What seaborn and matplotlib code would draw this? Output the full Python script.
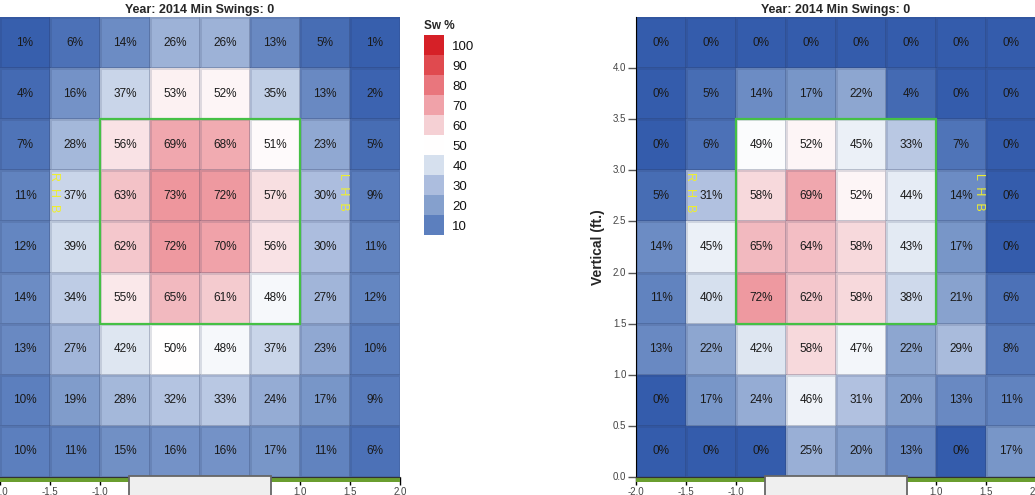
import numpy as np
import seaborn as sns
import matplotlib.pyplot as plt
from matplotlib.colors import LinearSegmentedColormap
from matplotlib.patches import Rectangle

# swing % by zone, top row first (4.5 ft down to 0 ft), left to right (-2 ft to 2 ft)
left_grid = [
    [1, 6, 14, 26, 26, 13, 5, 1],
    [4, 16, 37, 53, 52, 35, 13, 2],
    [7, 28, 56, 69, 68, 51, 23, 5],
    [11, 37, 63, 73, 72, 57, 30, 9],
    [12, 39, 62, 72, 70, 56, 30, 11],
    [14, 34, 55, 65, 61, 48, 27, 12],
    [13, 27, 42, 50, 48, 37, 23, 10],
    [10, 19, 28, 32, 33, 24, 17, 9],
    [10, 11, 15, 16, 16, 17, 11, 6],
]
right_grid = [
    [0, 0, 0, 0, 0, 0, 0, 0],
    [0, 5, 14, 17, 22, 4, 0, 0],
    [0, 6, 49, 52, 45, 33, 7, 0],
    [5, 31, 58, 69, 52, 44, 14, 0],
    [14, 45, 65, 64, 58, 43, 17, 0],
    [11, 40, 72, 62, 58, 38, 21, 6],
    [13, 22, 42, 58, 47, 22, 29, 8],
    [0, 17, 24, 46, 31, 20, 13, 11],
    [0, 0, 0, 25, 20, 13, 0, 17],
]
x_labels = ["-2.0", "-1.5", "-1.0", "-0.5", "0.0", "0.5", "1.0", "1.5", "2.0"]
y_labels = ["0.0", "0.5", "1.0", "1.5", "2.0", "2.5", "3.0", "3.5", "4.0"]
legend_vals = [100, 90, 80, 70, 60, 50, 40, 30, 20, 10]
title = "Year: 2014 Min Swings: 0"

sns.set_style("white")
plt.rcParams['font.family'] = ['Liberation Sans', 'DejaVu Sans']

cmap = LinearSegmentedColormap.from_list("sw", [
    (0.0, (52/255, 92/255, 172/255)),
    (0.1, (93/255, 128/255, 190/255)),
    (0.2, (133/255, 160/255, 205/255)),
    (0.3, (173/255, 190/255, 222/255)),
    (0.4, (214/255, 224/255, 238/255)),
    (0.5, (1, 1, 1)),
    (0.6, (245/255, 208/255, 212/255)),
    (0.7, (240/255, 163/255, 170/255)),
    (0.8, (233/255, 118/255, 125/255)),
    (0.9, (224/255, 75/255, 80/255)),
    (1.0, (214/255, 32/255, 39/255)),
])

fig = plt.figure(figsize=(10.35, 4.95), dpi=100)
ax_l = fig.add_axes([0.0, 18/495, 400/1035, 460/495])
ax_r = fig.add_axes([636/1035, 18/495, 400/1035, 460/495])
ax_leg = fig.add_axes([424/1035, 260/495, 20/1035, 200/495])


def zone_plot(ax, grid, show_y):
    data = np.array(grid)
    labels = np.array([[f"{v}%" for v in row] for row in grid])
    sns.heatmap(data, ax=ax, cmap=cmap, vmin=0, vmax=100, cbar=False,
                annot=labels, fmt="", annot_kws={"fontsize": 8.5, "color": "#1a1a1a"},
                linewidths=0.8, linecolor=(0.15, 0.2, 0.35, 0.14))
    ax.set_title(title, fontsize=9, fontweight="bold", pad=3)
    ax.set_xticks(np.arange(9))
    ax.set_xticklabels(x_labels, rotation=0, fontsize=7, color="#444")
    ax.tick_params(axis="x", bottom=True, length=6, width=1, color="black", pad=1)
    ax.set_xlabel("")
    if show_y:
        ax.set_yticks(9 - np.arange(9))
        ax.set_yticklabels(y_labels, rotation=0, fontsize=7, color="#444")
        ax.tick_params(axis="y", left=True, length=6, width=1, color="#555", pad=1)
        ax.set_ylabel("Vertical (ft.)", fontsize=10, fontweight="bold", labelpad=6)
        ax.spines["left"].set_visible(True)
        ax.spines["left"].set_color("black")
    else:
        ax.set_yticks([])
    ax.set_xlim(0, 8)
    ax.set_ylim(9, 0)
    ax.spines["bottom"].set_visible(True)
    ax.spines["bottom"].set_color("#333")
    # strike zone
    ax.add_patch(Rectangle((2, 2), 4, 4, fill=False, edgecolor="#45c045", lw=1.6, zorder=4))
    # green ground strip and home plate below the axis
    ax.add_patch(Rectangle((0, 9), 8, 0.1, facecolor="#6a9e2f", edgecolor="none",
                           clip_on=False, zorder=1))
    ax.add_patch(Rectangle((2.58, 8.98), 2.84, 0.5, facecolor="#efefef", edgecolor="#666",
                           lw=1.3, clip_on=False, zorder=6))
    ax.text(1.08, 3.42, "R  H  B", rotation=270, color="#eeee30", fontsize=9,
            ha="center", va="center", zorder=5)
    ax.text(6.87, 3.42, "L  H  B", rotation=270, color="#eeee30", fontsize=9,
            ha="center", va="center", zorder=5)


zone_plot(ax_l, left_grid, False)
zone_plot(ax_r, right_grid, True)

# legend swatches
sns.heatmap(np.array(legend_vals).reshape(-1, 1), ax=ax_leg, cmap=cmap, vmin=0, vmax=100,
            cbar=False, linewidths=0)
ax_leg.set_xticks([])
ax_leg.yaxis.tick_right()
ax_leg.set_yticks(np.arange(len(legend_vals)) + 0.5)
ax_leg.set_yticklabels([str(v) for v in legend_vals], rotation=0, fontsize=9.5, color="#111")
ax_leg.tick_params(axis="y", length=0, pad=6)
ax_leg.set_title("Sw %", loc="left", fontsize=8.5, fontweight="bold", pad=4)

fig.savefig("out.png", dpi=100)
